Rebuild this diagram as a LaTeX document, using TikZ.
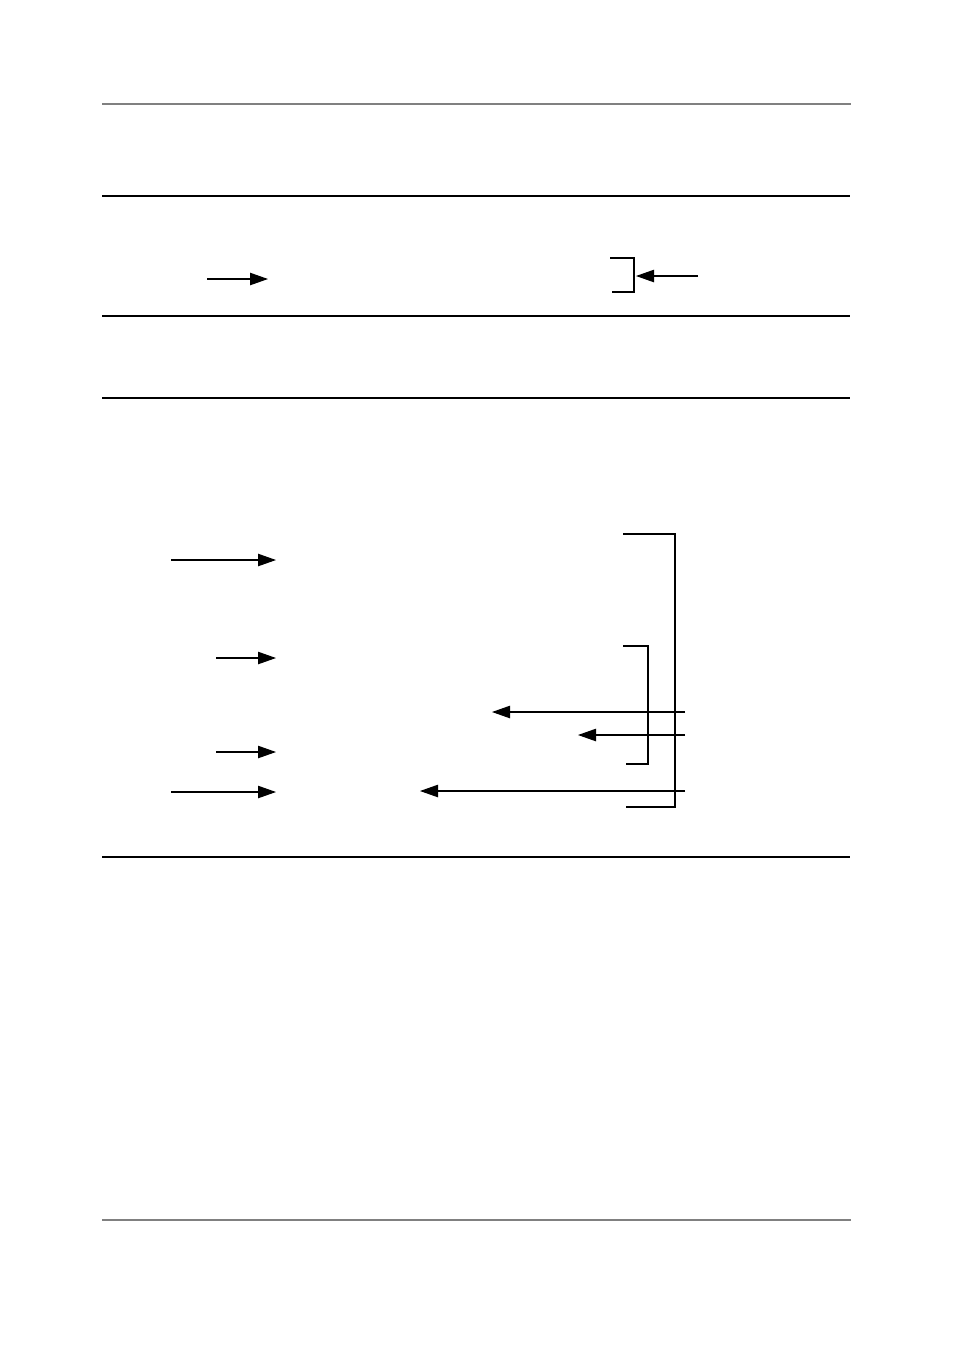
\documentclass[tikz,border=0pt]{standalone}
\usetikzlibrary{arrows.meta}
\begin{document}
\begin{tikzpicture}[x=0.5pt, y=-0.5pt, line join=miter, line cap=butt, >={Triangle[length=9pt, width=6.2pt]}]
			\colorlet{rulegray}{black!50}
			\tikzset{rule/.style={line width=0.6pt}, wire/.style={line width=0.55pt}}
			\useasboundingbox (0,0) rectangle (954,1351);
			% page rules
			\draw[rule, rulegray] (102,104) -- (851,104);
			\foreach \y in {196,316,398} {
				\draw[rule] (102,\y) -- (850,\y);
			}
			\draw[line width=1.1pt] (102,857) -- (850,857);
			\draw[rule, rulegray] (102,1220) -- (851,1220);
			% upper band
			\coordinate (inA) at (207,279);
			\coordinate (tipA) at (268,279);
			\coordinate (inB) at (698,276);
			\coordinate (tipB) at (636,276);
			\draw[wire, ->] (inA) -- (tipA);
			\draw[wire] (610,258) -- (634,258) -- (634,292) -- (612,292);
			\draw[wire, ->] (inB) -- (tipB);
			% lower band, arrows in
			\foreach \y/\x in {560/171, 658/216, 752/216, 792/171} {
				\draw[wire, ->] (\x,\y) -- (276,\y);
			}
			% lower band, arrows back
			\foreach \y/\x in {712/492, 735/578, 791/420} {
				\draw[wire, ->] (685,\y) -- (\x,\y);
			}
			% brackets
			\draw[wire] (623,534) -- (675,534) -- (675,807) -- (626,807);
			\draw[wire] (623,646) -- (648,646) -- (648,764) -- (626,764);
	\end{tikzpicture}
\end{document}
